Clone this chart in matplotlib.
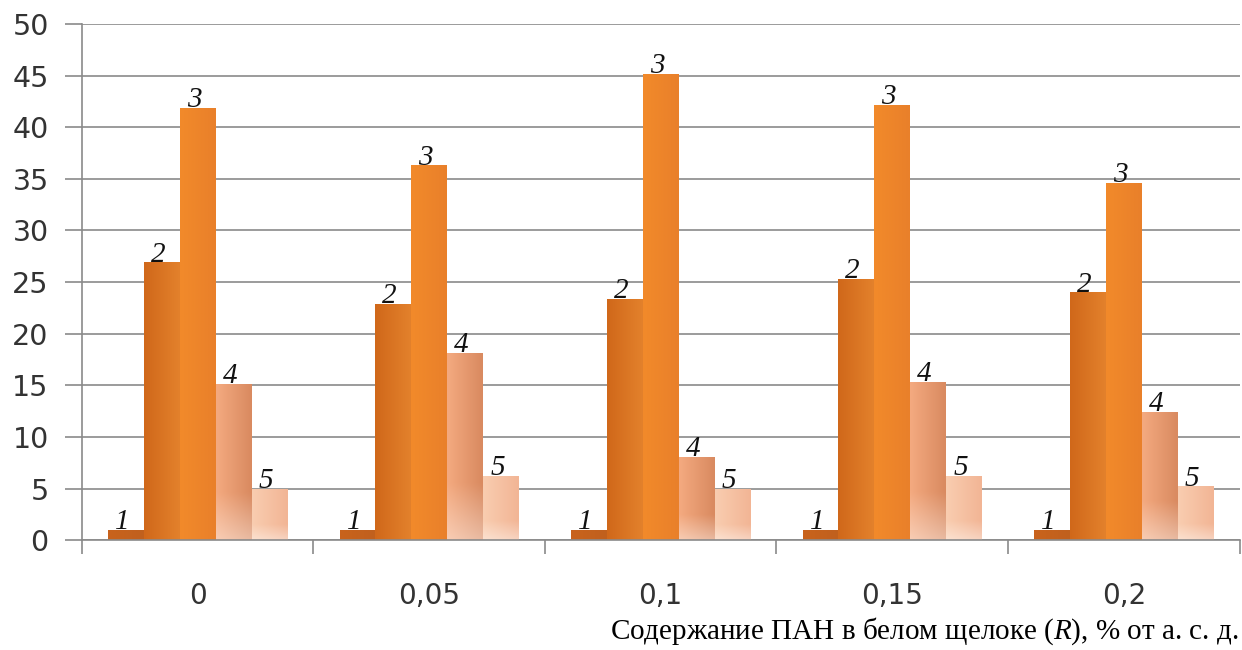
import numpy as np
import matplotlib
matplotlib.use("Agg")
import matplotlib.pyplot as plt
from matplotlib.colors import to_rgb

categories = ["0", "0,05", "0,1", "0,15", "0,2"]
series_labels = ["1", "2", "3", "4", "5"]
series_values = [
    [1.0, 1.0, 1.0, 1.0, 1.0],          # 1
    [26.9, 22.9, 23.4, 25.3, 24.0],     # 2
    [41.9, 36.3, 45.2, 42.2, 34.6],     # 3
    [15.1, 18.1, 8.1, 15.3, 12.4],      # 4
    [5.0, 6.2, 5.0, 6.2, 5.2],          # 5
]
y_ticks = [0, 5, 10, 15, 20, 25, 30, 35, 40, 45, 50]

# (left colour, right colour) for each series
series_colors = [
    ("#C9631C", "#C0601E"),
    ("#D0681A", "#E3812C"),
    ("#F28A2A", "#E9802A"),
    ("#F4AA80", "#D98A60"),
    ("#F9CDB0", "#F2B595"),
]

plt.rcParams["mathtext.fontset"] = "custom"
plt.rcParams["mathtext.it"] = "Liberation Serif:italic"
plt.rcParams["mathtext.rm"] = "Liberation Serif"

fig = plt.figure(figsize=(12.42, 6.5), dpi=100)
ax = fig.add_axes([0.066, 0.169, 0.932, 0.794])

n_series = len(series_values)
bar_w = 0.155
x = np.arange(len(categories))
grid_color = "#8A8A8A"

ax.set_xlim(-0.5, len(categories) - 0.5)
ax.set_ylim(0, 50)
ax.set_yticks(y_ticks)
ax.yaxis.grid(True, color=grid_color, linewidth=1.2)
ax.set_axisbelow(True)

for j, vals in enumerate(series_values):
    pos = x + (j - (n_series - 1) / 2) * bar_w
    bars = ax.bar(pos, vals, width=bar_w, color=series_colors[j][0],
                  linewidth=0, zorder=2)
    c_left = np.array(to_rgb(series_colors[j][0]))
    c_right = np.array(to_rgb(series_colors[j][1]))
    for b, v in zip(bars, vals):
        # shaded fill: horizontal shift, with a paler base for the light series
        h = np.linspace(0, 1, 40)[None, :, None]
        depth = np.linspace(0, 1, 60)[:, None, None]   # 0 at top, 1 at base
        img = c_left * (1 - h) + c_right * h
        img = np.broadcast_to(img, (60, 40, 3)).copy()
        if j >= 3:
            fade = np.clip((depth - 0.7) / 0.3, 0, 1) * 0.4
            img = img * (1 - fade) + np.ones(3) * fade
        im = ax.imshow(img, extent=[b.get_x(), b.get_x() + b.get_width(), 0, v],
                       aspect="auto", zorder=2.5, interpolation="bilinear")
        im.set_clip_path(b)
        ax.text(b.get_x() + b.get_width() * 0.4, v - 0.5, series_labels[j],
                ha="center", va="bottom", fontsize=21, style="italic",
                family="Liberation Serif", color="#111111", zorder=4)

ax.set_xticks(x)
ax.set_xticklabels(categories, fontsize=20, color="#333333")
ax.set_xticks(np.arange(len(categories) + 1) - 0.5, minor=True)
ax.tick_params(axis="x", which="major", length=0, pad=30)
ax.tick_params(axis="x", which="minor", length=10, color=grid_color, width=1.2)
ax.tick_params(axis="y", length=12, color=grid_color, width=1.2,
               labelsize=20.5, labelcolor="#333333", pad=12)

for side in ["top", "right"]:
    ax.spines[side].set_visible(False)
ax.spines["left"].set_color(grid_color)
ax.spines["bottom"].set_color(grid_color)
ax.spines["left"].set_linewidth(1.2)
ax.spines["bottom"].set_linewidth(1.2)

fig.text(0.997, 0.018, r"Содержание ПАН в белом щелоке ($\it{R}$), % от а. с. д.",
         ha="right", va="baseline", fontsize=21, family="Liberation Serif",
         color="black")

fig.savefig("out.png", dpi=100, facecolor="white")
